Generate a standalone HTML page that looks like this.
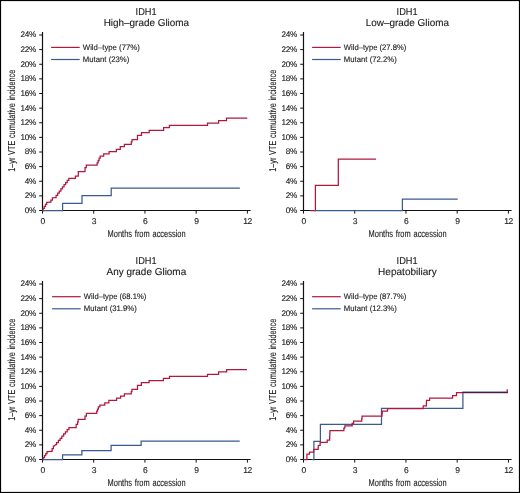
<!DOCTYPE html>
<html><head><meta charset="utf-8"><style>
html,body{margin:0;padding:0;background:#fff;}
svg{display:block;will-change:transform;}
text{font-family:"Liberation Sans",sans-serif;fill:#1a1a1a;stroke:#1a1a1a;stroke-width:0.12px;text-rendering:geometricPrecision;}
.tt{font-size:10px;}
.tk{font-size:8.2px;letter-spacing:-0.3px;}
.tx{font-size:8.5px;letter-spacing:-0.4px;}
.lg{font-size:8.0px;}
.ax{font-size:9.9px;word-spacing:1px;}
.ay{font-size:10.1px;word-spacing:1px;}
</style></head><body>
<svg width="520" height="493" viewBox="0 0 520 493">
<rect x="0" y="0" width="520" height="493" fill="#fff"/>
<text x="146.1" y="14.8" class="tt" text-anchor="middle" textLength="21" lengthAdjust="spacingAndGlyphs">IDH1</text>
<text x="146.4" y="25.5" class="tt" text-anchor="middle" textLength="85.5" lengthAdjust="spacingAndGlyphs">High–grade Glioma</text>
<path d="M42.5,32.0 V210.5 H250.6" fill="none" stroke="#111" stroke-width="1.2"/>
<path d="M39.2,210.50 H42.5 M39.2,195.88 H42.5 M39.2,181.25 H42.5 M39.2,166.62 H42.5 M39.2,152.00 H42.5 M39.2,137.38 H42.5 M39.2,122.75 H42.5 M39.2,108.12 H42.5 M39.2,93.50 H42.5 M39.2,78.88 H42.5 M39.2,64.25 H42.5 M39.2,49.62 H42.5 M39.2,35.00 H42.5 M42.50,210.5 V213.6 M93.72,210.5 V213.6 M144.95,210.5 V213.6 M196.17,210.5 V213.6 M247.40,210.5 V213.6" fill="none" stroke="#111" stroke-width="1"/>
<text x="36.0" y="212.90" class="tk" text-anchor="end">0%</text>
<text x="36.0" y="198.28" class="tk" text-anchor="end">2%</text>
<text x="36.0" y="183.65" class="tk" text-anchor="end">4%</text>
<text x="36.0" y="169.03" class="tk" text-anchor="end">6%</text>
<text x="36.0" y="154.40" class="tk" text-anchor="end">8%</text>
<text x="36.0" y="139.78" class="tk" text-anchor="end">10%</text>
<text x="36.0" y="125.15" class="tk" text-anchor="end">12%</text>
<text x="36.0" y="110.53" class="tk" text-anchor="end">14%</text>
<text x="36.0" y="95.90" class="tk" text-anchor="end">16%</text>
<text x="36.0" y="81.28" class="tk" text-anchor="end">18%</text>
<text x="36.0" y="66.65" class="tk" text-anchor="end">20%</text>
<text x="36.0" y="52.02" class="tk" text-anchor="end">22%</text>
<text x="36.0" y="37.40" class="tk" text-anchor="end">24%</text>
<text x="42.70" y="223.7" class="tx" text-anchor="middle">0</text>
<text x="93.92" y="223.7" class="tx" text-anchor="middle">3</text>
<text x="145.15" y="223.7" class="tx" text-anchor="middle">6</text>
<text x="196.37" y="223.7" class="tx" text-anchor="middle">9</text>
<text x="247.60" y="223.7" class="tx" text-anchor="middle">12</text>
<text x="146.6" y="236.8" class="ax" text-anchor="middle" textLength="78" lengthAdjust="spacingAndGlyphs">Months from accession</text>
<text transform="translate(15.2,120.8) rotate(-90)" x="0" y="0" class="ay" text-anchor="middle" textLength="102" lengthAdjust="spacingAndGlyphs">1–yr VTE cumulative incidence</text>
<path d="M51.1,47.4 H79.7" stroke="#b0183e" stroke-width="1.2"/>
<path d="M51.1,59.5 H79.7" stroke="#3b5a8e" stroke-width="1.2"/>
<text x="82.8" y="49.7" class="lg" textLength="57" lengthAdjust="spacingAndGlyphs">Wild–type (77%)</text>
<text x="82.8" y="61.8" class="lg" textLength="46.5" lengthAdjust="spacingAndGlyphs">Mutant (23%)</text>
<path d="M42.50,210.50 L43.10,210.50 L43.10,208.45 L44.30,208.45 L44.30,206.40 L45.50,206.40 L45.50,204.35 L46.70,204.35 L46.70,202.30 L47.30,202.30 L50.20,202.10 L50.93,202.10 L50.93,200.00 L52.38,200.00 L52.38,197.90 L53.10,197.90 L55.30,197.50 L56.09,197.50 L56.09,195.37 L57.68,195.37 L57.68,193.23 L59.27,193.23 L59.27,191.10 L60.86,191.10 L60.86,188.97 L62.45,188.97 L62.45,186.83 L64.04,186.83 L64.04,184.70 L65.63,184.70 L65.63,182.57 L67.22,182.57 L67.22,180.43 L68.81,180.43 L68.81,178.30 L69.60,178.30 L75.40,178.30 L75.40,176.20 L78.30,176.20 L78.30,171.60 L85.00,171.60 L85.00,167.50 L86.30,167.50 L86.30,165.10 L96.60,165.10 L97.10,165.10 L97.10,162.80 L98.10,162.80 L98.10,160.50 L99.10,160.50 L99.10,158.20 L99.60,158.20 L100.20,158.20 L100.20,156.10 L100.80,156.10 L103.70,156.10 L103.70,153.90 L109.10,153.90 L109.10,151.60 L116.40,151.60 L116.40,149.40 L120.30,149.40 L120.30,146.60 L124.40,146.60 L124.40,144.30 L130.90,144.30 L131.28,144.30 L131.28,141.95 L132.03,141.95 L132.03,139.60 L132.40,139.60 L137.50,139.60 L137.50,135.30 L141.50,135.30 L141.50,132.70 L149.20,132.70 L149.20,130.30 L163.60,130.30 L163.60,127.70 L169.40,127.70 L169.40,125.40 L207.50,125.40 L207.50,123.20 L218.60,123.20 L218.60,120.50 L226.50,120.50 L226.50,118.20 L247.30,118.20" fill="none" stroke="#b0183e" stroke-width="1.25" stroke-linejoin="miter"/>
<path d="M42.50,210.50 L62.60,210.50 L62.60,203.40 L82.00,203.40 L82.00,195.60 L111.20,195.60 L111.20,188.10 L239.90,188.10" fill="none" stroke="#3b5a8e" stroke-width="1.25" stroke-linejoin="miter"/>
<text x="407.1" y="14.8" class="tt" text-anchor="middle" textLength="21" lengthAdjust="spacingAndGlyphs">IDH1</text>
<text x="407.4" y="25.5" class="tt" text-anchor="middle" textLength="83.2" lengthAdjust="spacingAndGlyphs">Low–grade Glioma</text>
<path d="M303.5,32.0 V210.5 H511.6" fill="none" stroke="#111" stroke-width="1.2"/>
<path d="M300.2,210.50 H303.5 M300.2,195.88 H303.5 M300.2,181.25 H303.5 M300.2,166.62 H303.5 M300.2,152.00 H303.5 M300.2,137.38 H303.5 M300.2,122.75 H303.5 M300.2,108.12 H303.5 M300.2,93.50 H303.5 M300.2,78.88 H303.5 M300.2,64.25 H303.5 M300.2,49.62 H303.5 M300.2,35.00 H303.5 M303.50,210.5 V213.6 M354.73,210.5 V213.6 M405.95,210.5 V213.6 M457.17,210.5 V213.6 M508.40,210.5 V213.6" fill="none" stroke="#111" stroke-width="1"/>
<text x="297.0" y="212.90" class="tk" text-anchor="end">0%</text>
<text x="297.0" y="198.28" class="tk" text-anchor="end">2%</text>
<text x="297.0" y="183.65" class="tk" text-anchor="end">4%</text>
<text x="297.0" y="169.03" class="tk" text-anchor="end">6%</text>
<text x="297.0" y="154.40" class="tk" text-anchor="end">8%</text>
<text x="297.0" y="139.78" class="tk" text-anchor="end">10%</text>
<text x="297.0" y="125.15" class="tk" text-anchor="end">12%</text>
<text x="297.0" y="110.53" class="tk" text-anchor="end">14%</text>
<text x="297.0" y="95.90" class="tk" text-anchor="end">16%</text>
<text x="297.0" y="81.28" class="tk" text-anchor="end">18%</text>
<text x="297.0" y="66.65" class="tk" text-anchor="end">20%</text>
<text x="297.0" y="52.02" class="tk" text-anchor="end">22%</text>
<text x="297.0" y="37.40" class="tk" text-anchor="end">24%</text>
<text x="303.70" y="223.7" class="tx" text-anchor="middle">0</text>
<text x="354.93" y="223.7" class="tx" text-anchor="middle">3</text>
<text x="406.15" y="223.7" class="tx" text-anchor="middle">6</text>
<text x="457.37" y="223.7" class="tx" text-anchor="middle">9</text>
<text x="508.60" y="223.7" class="tx" text-anchor="middle">12</text>
<text x="407.6" y="236.8" class="ax" text-anchor="middle" textLength="78" lengthAdjust="spacingAndGlyphs">Months from accession</text>
<text transform="translate(276.2,120.8) rotate(-90)" x="0" y="0" class="ay" text-anchor="middle" textLength="102" lengthAdjust="spacingAndGlyphs">1–yr VTE cumulative incidence</text>
<path d="M312.1,47.4 H340.7" stroke="#b0183e" stroke-width="1.2"/>
<path d="M312.1,59.5 H340.7" stroke="#3b5a8e" stroke-width="1.2"/>
<text x="343.8" y="49.7" class="lg" textLength="62.5" lengthAdjust="spacingAndGlyphs">Wild–type (27.8%)</text>
<text x="343.8" y="61.8" class="lg" textLength="53" lengthAdjust="spacingAndGlyphs">Mutant (72.2%)</text>
<path d="M310.00,210.50 L315.40,210.50 L315.40,185.40 L338.30,185.40 L338.30,159.10 L376.00,159.10" fill="none" stroke="#b0183e" stroke-width="1.25" stroke-linejoin="miter"/>
<path d="M314.00,210.50 L402.40,210.50 L402.40,199.10 L457.70,199.10" fill="none" stroke="#3b5a8e" stroke-width="1.25" stroke-linejoin="miter"/>
<text x="146.1" y="263.8" class="tt" text-anchor="middle" textLength="21" lengthAdjust="spacingAndGlyphs">IDH1</text>
<text x="146.4" y="274.5" class="tt" text-anchor="middle" textLength="79.6" lengthAdjust="spacingAndGlyphs">Any grade Glioma</text>
<path d="M42.5,281.0 V459.5 H250.6" fill="none" stroke="#111" stroke-width="1.2"/>
<path d="M39.2,459.50 H42.5 M39.2,444.88 H42.5 M39.2,430.25 H42.5 M39.2,415.62 H42.5 M39.2,401.00 H42.5 M39.2,386.38 H42.5 M39.2,371.75 H42.5 M39.2,357.12 H42.5 M39.2,342.50 H42.5 M39.2,327.88 H42.5 M39.2,313.25 H42.5 M39.2,298.62 H42.5 M39.2,284.00 H42.5 M42.50,459.5 V462.6 M93.72,459.5 V462.6 M144.95,459.5 V462.6 M196.17,459.5 V462.6 M247.40,459.5 V462.6" fill="none" stroke="#111" stroke-width="1"/>
<text x="36.0" y="461.90" class="tk" text-anchor="end">0%</text>
<text x="36.0" y="447.27" class="tk" text-anchor="end">2%</text>
<text x="36.0" y="432.65" class="tk" text-anchor="end">4%</text>
<text x="36.0" y="418.02" class="tk" text-anchor="end">6%</text>
<text x="36.0" y="403.40" class="tk" text-anchor="end">8%</text>
<text x="36.0" y="388.77" class="tk" text-anchor="end">10%</text>
<text x="36.0" y="374.15" class="tk" text-anchor="end">12%</text>
<text x="36.0" y="359.52" class="tk" text-anchor="end">14%</text>
<text x="36.0" y="344.90" class="tk" text-anchor="end">16%</text>
<text x="36.0" y="330.27" class="tk" text-anchor="end">18%</text>
<text x="36.0" y="315.65" class="tk" text-anchor="end">20%</text>
<text x="36.0" y="301.02" class="tk" text-anchor="end">22%</text>
<text x="36.0" y="286.40" class="tk" text-anchor="end">24%</text>
<text x="42.70" y="472.7" class="tx" text-anchor="middle">0</text>
<text x="93.92" y="472.7" class="tx" text-anchor="middle">3</text>
<text x="145.15" y="472.7" class="tx" text-anchor="middle">6</text>
<text x="196.37" y="472.7" class="tx" text-anchor="middle">9</text>
<text x="247.60" y="472.7" class="tx" text-anchor="middle">12</text>
<text x="146.6" y="485.8" class="ax" text-anchor="middle" textLength="78" lengthAdjust="spacingAndGlyphs">Months from accession</text>
<text transform="translate(15.2,369.8) rotate(-90)" x="0" y="0" class="ay" text-anchor="middle" textLength="102" lengthAdjust="spacingAndGlyphs">1–yr VTE cumulative incidence</text>
<path d="M52.1,296.7 H80.7" stroke="#b0183e" stroke-width="1.2"/>
<path d="M52.1,308.8 H80.7" stroke="#3b5a8e" stroke-width="1.2"/>
<text x="83.8" y="299.0" class="lg" textLength="62.5" lengthAdjust="spacingAndGlyphs">Wild–type (68.1%)</text>
<text x="83.8" y="311.1" class="lg" textLength="53" lengthAdjust="spacingAndGlyphs">Mutant (31.9%)</text>
<path d="M42.50,459.50 L43.15,459.50 L43.15,457.50 L44.45,457.50 L44.45,455.50 L45.75,455.50 L45.75,453.50 L47.05,453.50 L47.05,451.50 L47.70,451.50 L51.50,451.30 L52.12,451.30 L52.12,448.65 L53.38,448.65 L53.38,446.00 L54.00,446.00 L55.70,444.70 L56.58,444.70 L56.58,442.55 L58.34,442.55 L58.34,440.40 L60.11,440.40 L60.11,438.25 L61.87,438.25 L61.87,436.10 L63.63,436.10 L63.63,433.95 L65.39,433.95 L65.39,431.80 L67.16,431.80 L67.16,429.65 L68.92,429.65 L68.92,427.50 L69.80,427.50 L74.90,427.50 L76.15,427.50 L76.15,424.30 L77.40,424.30 L77.65,424.30 L77.65,421.85 L78.15,421.85 L78.15,419.40 L78.40,419.40 L85.00,419.40 L85.00,416.00 L86.40,416.00 L86.40,413.40 L96.30,413.40 L96.72,413.40 L96.72,411.20 L97.55,411.20 L97.55,409.00 L98.38,409.00 L98.38,406.80 L98.80,406.80 L99.90,406.80 L99.90,405.00 L101.00,405.00 L104.80,405.00 L104.80,402.80 L108.40,402.80 L108.85,402.80 L108.85,400.30 L109.30,400.30 L116.60,400.30 L116.60,398.10 L120.60,398.10 L120.60,396.00 L124.40,396.00 L124.40,393.80 L130.90,393.80 L131.25,393.80 L131.25,391.60 L131.95,391.60 L131.95,389.40 L132.30,389.40 L137.50,389.40 L137.50,385.30 L141.40,385.30 L141.40,382.70 L149.10,382.70 L149.10,380.60 L163.40,380.60 L163.40,378.40 L169.50,378.40 L169.50,376.40 L207.50,376.40 L207.50,374.30 L218.60,374.30 L218.60,371.80 L226.70,371.80 L226.70,369.50 L247.00,369.50" fill="none" stroke="#b0183e" stroke-width="1.25" stroke-linejoin="miter"/>
<path d="M42.50,459.50 L62.60,459.50 L62.60,454.90 L81.90,454.90 L81.90,450.50 L111.10,450.50 L111.10,445.30 L141.10,445.30 L141.10,441.10 L239.70,441.10" fill="none" stroke="#3b5a8e" stroke-width="1.25" stroke-linejoin="miter"/>
<text x="407.1" y="263.8" class="tt" text-anchor="middle" textLength="21" lengthAdjust="spacingAndGlyphs">IDH1</text>
<text x="407.4" y="274.5" class="tt" text-anchor="middle" textLength="58.6" lengthAdjust="spacingAndGlyphs">Hepatobiliary</text>
<path d="M303.5,281.0 V459.5 H511.6" fill="none" stroke="#111" stroke-width="1.2"/>
<path d="M300.2,459.50 H303.5 M300.2,444.88 H303.5 M300.2,430.25 H303.5 M300.2,415.62 H303.5 M300.2,401.00 H303.5 M300.2,386.38 H303.5 M300.2,371.75 H303.5 M300.2,357.12 H303.5 M300.2,342.50 H303.5 M300.2,327.88 H303.5 M300.2,313.25 H303.5 M300.2,298.62 H303.5 M300.2,284.00 H303.5 M303.50,459.5 V462.6 M354.73,459.5 V462.6 M405.95,459.5 V462.6 M457.17,459.5 V462.6 M508.40,459.5 V462.6" fill="none" stroke="#111" stroke-width="1"/>
<text x="297.0" y="461.90" class="tk" text-anchor="end">0%</text>
<text x="297.0" y="447.27" class="tk" text-anchor="end">2%</text>
<text x="297.0" y="432.65" class="tk" text-anchor="end">4%</text>
<text x="297.0" y="418.02" class="tk" text-anchor="end">6%</text>
<text x="297.0" y="403.40" class="tk" text-anchor="end">8%</text>
<text x="297.0" y="388.77" class="tk" text-anchor="end">10%</text>
<text x="297.0" y="374.15" class="tk" text-anchor="end">12%</text>
<text x="297.0" y="359.52" class="tk" text-anchor="end">14%</text>
<text x="297.0" y="344.90" class="tk" text-anchor="end">16%</text>
<text x="297.0" y="330.27" class="tk" text-anchor="end">18%</text>
<text x="297.0" y="315.65" class="tk" text-anchor="end">20%</text>
<text x="297.0" y="301.02" class="tk" text-anchor="end">22%</text>
<text x="297.0" y="286.40" class="tk" text-anchor="end">24%</text>
<text x="303.70" y="472.7" class="tx" text-anchor="middle">0</text>
<text x="354.93" y="472.7" class="tx" text-anchor="middle">3</text>
<text x="406.15" y="472.7" class="tx" text-anchor="middle">6</text>
<text x="457.37" y="472.7" class="tx" text-anchor="middle">9</text>
<text x="508.60" y="472.7" class="tx" text-anchor="middle">12</text>
<text x="407.6" y="485.8" class="ax" text-anchor="middle" textLength="78" lengthAdjust="spacingAndGlyphs">Months from accession</text>
<text transform="translate(276.2,369.8) rotate(-90)" x="0" y="0" class="ay" text-anchor="middle" textLength="102" lengthAdjust="spacingAndGlyphs">1–yr VTE cumulative incidence</text>
<path d="M312.1,296.7 H340.7" stroke="#b0183e" stroke-width="1.2"/>
<path d="M312.1,308.8 H340.7" stroke="#3b5a8e" stroke-width="1.2"/>
<text x="343.8" y="299.0" class="lg" textLength="62.5" lengthAdjust="spacingAndGlyphs">Wild–type (87.7%)</text>
<text x="343.8" y="311.1" class="lg" textLength="53" lengthAdjust="spacingAndGlyphs">Mutant (12.3%)</text>
<path d="M312.30,459.50 L313.90,459.50 L313.90,441.30 L320.40,441.30 L320.40,424.40 L381.50,424.40 L381.50,408.40 L462.90,408.40 L462.90,392.30 L507.80,392.30" fill="none" stroke="#3b5a8e" stroke-width="1.25" stroke-linejoin="miter"/>
<path d="M303.50,459.50 L306.90,459.50 L306.90,454.20 L309.50,454.20 L309.50,452.00 L313.40,452.00 L313.60,452.00 L313.60,449.30 L313.80,449.30 L318.10,449.30 L318.15,449.30 L318.15,447.50 L318.25,447.50 L318.25,445.70 L318.30,445.70 L319.50,445.40 L320.15,445.40 L320.15,442.40 L320.80,442.40 L327.20,442.40 L327.20,440.20 L329.60,440.20 L329.65,440.20 L329.65,437.80 L329.75,437.80 L329.75,435.40 L329.85,435.40 L329.85,433.00 L329.95,433.00 L329.95,430.60 L330.00,430.60 L343.40,430.60 L343.88,430.60 L343.88,428.20 L344.82,428.20 L344.82,425.80 L345.30,425.80 L351.50,425.80 L352.20,425.80 L352.20,423.40 L353.60,423.40 L353.60,421.00 L354.30,421.00 L361.60,421.00 L361.75,421.00 L361.75,418.50 L362.05,418.50 L362.05,416.00 L362.20,416.00 L381.80,416.00 L381.95,416.00 L381.95,413.50 L382.25,413.50 L382.25,411.00 L382.40,411.00 L387.50,411.00 L387.50,408.60 L423.10,408.60 L423.20,405.80 L426.40,405.80 L426.42,405.80 L426.42,403.10 L426.48,403.10 L426.48,400.40 L426.50,400.40 L429.60,400.30 L429.70,398.10 L452.60,398.10 L452.60,395.60 L456.50,395.60 L456.50,392.50 L507.20,392.50 L507.20,389.30" fill="none" stroke="#b0183e" stroke-width="1.25" stroke-linejoin="miter"/>
<path d="M462.4,392.4 H507.6" stroke="#3d1f52" stroke-width="1.3"/>
<rect x="0.5" y="0.5" width="519" height="492" fill="none" stroke="#000" stroke-width="1.2"/>
</svg>
</body></html>
